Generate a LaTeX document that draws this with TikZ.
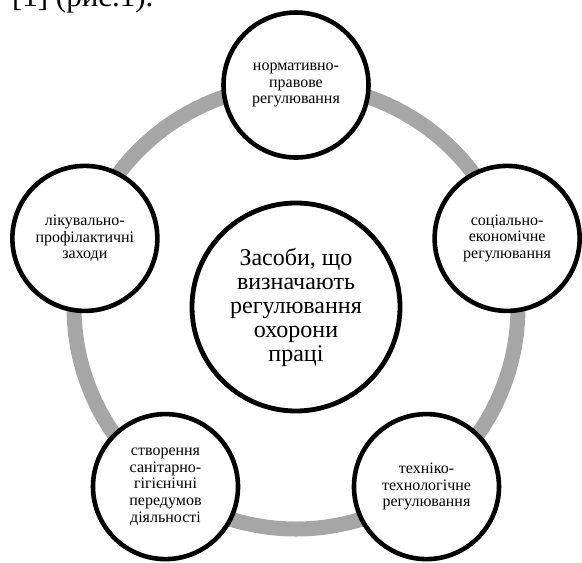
\documentclass[tikz,border=0pt]{standalone}
\usepackage{fontspec}
\setmainfont{Liberation Serif}
\usetikzlibrary{positioning}
\definecolor{ringgray}{RGB}{166,166,166}
\begin{document}
\begin{tikzpicture}[x=0.5pt,y=0.5pt,
    item/.style={circle,draw,line width=2.3pt,fill=white,minimum size=72.5pt,
      inner sep=0pt,align=center,font=\fontsize{8}{8.3}\selectfont},
    hub/.style={circle,draw,line width=2.4pt,fill=white,minimum size=104pt,
      inner sep=0pt,align=center,font=\fontsize{12}{12}\selectfont},
    ring/.style={draw=ringgray,line width=7.5pt}]
    \useasboundingbox (-296,-255) rectangle (286,307);
    \clip (-296,-255) rectangle (286,307);
    \node[anchor=base west,font=\fontsize{15.5}{16}\selectfont] (ref) at (-291,300) {[1] (рис.1).};
    \node[hub] (hub) at (0,0) {Засоби, що\\визначають\\регулювання\\охорони\\праці};
    \draw[ring] (hub.center) circle [radius=222];
    \node[item] (norm) at (90:222) {нормативно-\\правове\\регулювання};
    \node[item] (soc) at (18:222) {соціально-\\економічне\\регулювання};
    \node[item] (tech) at (-54:222) {техніко-\\технологічне\\регулювання};
    \node[item] (san) at (-126:222) {створення\\санітарно-\\гігієнічні\\передумов\\діяльності};
    \node[item] (lik) at (162:222) {лікувально-\\профілактичні\\заходи};
\end{tikzpicture}
\end{document}
